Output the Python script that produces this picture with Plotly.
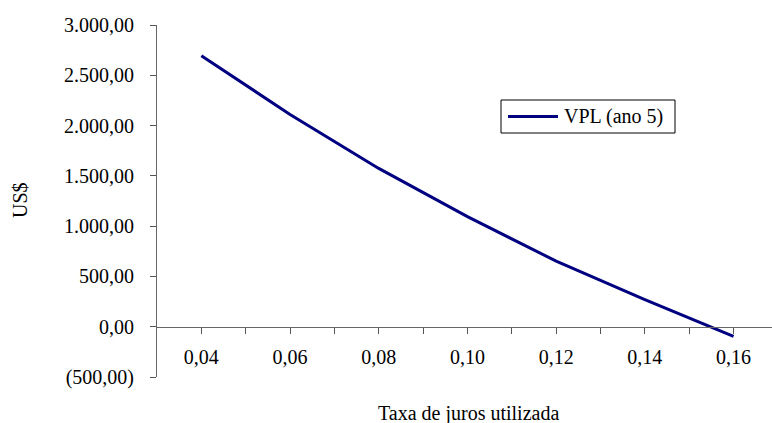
import plotly.graph_objects as go

# Taxa de juros e VPL no ano 5
taxas = [0.04, 0.06, 0.08, 0.10, 0.12, 0.14, 0.16]
vpl = [2695, 2110, 1574, 1095, 652, 270, -95]
serie_nome = "VPL (ano 5)"

# Eixo X: marcas a cada 0,01, rótulos só nas taxas
x_marcas = [0.04, 0.05, 0.06, 0.07, 0.08, 0.09, 0.10, 0.11, 0.12, 0.13, 0.14, 0.15, 0.16]
# Eixo Y
y_marcas = [-500, 0, 500, 1000, 1500, 2000, 2500, 3000]

FONTE = "Times New Roman, Liberation Serif, serif"


def moeda_br(v):
    s = f"{abs(v):,.2f}".replace(",", "X").replace(".", ",").replace("X", ".")
    return f"({s})" if v < 0 else s


def taxa_br(v):
    return f"{v:.2f}".replace(".", ",")


x_textos = [taxa_br(v) if any(abs(v - t) < 1e-9 for t in taxas) else "" for v in x_marcas]
y_textos = [moeda_br(v) for v in y_marcas]

Y_MIN, Y_MAX = -500, 3000
X_MIN = 0.03
X_MAX = X_MIN + (772 - 157) / 4435.0

# área de plotagem em pixels (para posicionar legenda e títulos)
PX_L, PX_R, PX_T, PX_B = 157, 772, 25, 377


def px(xp):
    return (xp - PX_L) / (PX_R - PX_L)


def py(yp):
    return (PX_B - yp) / (PX_B - PX_T)


fig = go.Figure()
fig.add_trace(go.Scatter(
    x=taxas, y=vpl, mode="lines", name=serie_nome,
    line=dict(color="#000080", width=3), showlegend=False,
))

fonte = dict(family=FONTE, size=20, color="black")

fig.update_layout(
    width=772, height=423,
    margin=dict(l=PX_L, r=0, t=PX_T, b=423 - PX_B),
    paper_bgcolor="white", plot_bgcolor="white",
    font=fonte,
    xaxis=dict(
        range=[X_MIN, X_MAX],
        anchor="free", position=(0 - Y_MIN) / (Y_MAX - Y_MIN),
        tickmode="array", tickvals=x_marcas, ticktext=x_textos,
        ticks="outside", ticklen=6, tickcolor="#555", tickwidth=1,
        ticklabelstandoff=6,
        showline=True, linecolor="#666", linewidth=1,
        showgrid=False, zeroline=False,
        tickfont=fonte,
    ),
    yaxis=dict(
        range=[Y_MIN, Y_MAX],
        tickmode="array", tickvals=y_marcas, ticktext=y_textos,
        ticks="outside", ticklen=6, tickcolor="#555", tickwidth=1,
        ticklabelstandoff=12,
        showline=True, linecolor="#666", linewidth=1,
        showgrid=False, zeroline=False,
        tickfont=fonte,
    ),
    shapes=[
        # caixa da legenda
        dict(type="rect", xref="paper", yref="paper",
             x0=px(501), x1=px(675), y0=py(133), y1=py(100),
             line=dict(color="black", width=1), fillcolor="white", layer="above"),
        # amostra da linha
        dict(type="line", xref="paper", yref="paper",
             x0=px(508), x1=px(558), y0=py(116.5), y1=py(116.5),
             line=dict(color="#000080", width=3), layer="above"),
    ],
    annotations=[
        dict(text=serie_nome, xref="paper", yref="paper",
             x=px(562), y=py(116.5), xanchor="left", yanchor="middle",
             showarrow=False, font=fonte),
        dict(text="Taxa de juros utilizada", xref="paper", yref="paper",
             x=px(468), y=py(413), xanchor="center", yanchor="middle",
             showarrow=False, font=fonte),
        dict(text="US$", xref="paper", yref="paper",
             x=px(20), y=py(200), xanchor="center", yanchor="middle",
             textangle=-90, showarrow=False, font=fonte),
    ],
)

fig.write_html("out.html")
